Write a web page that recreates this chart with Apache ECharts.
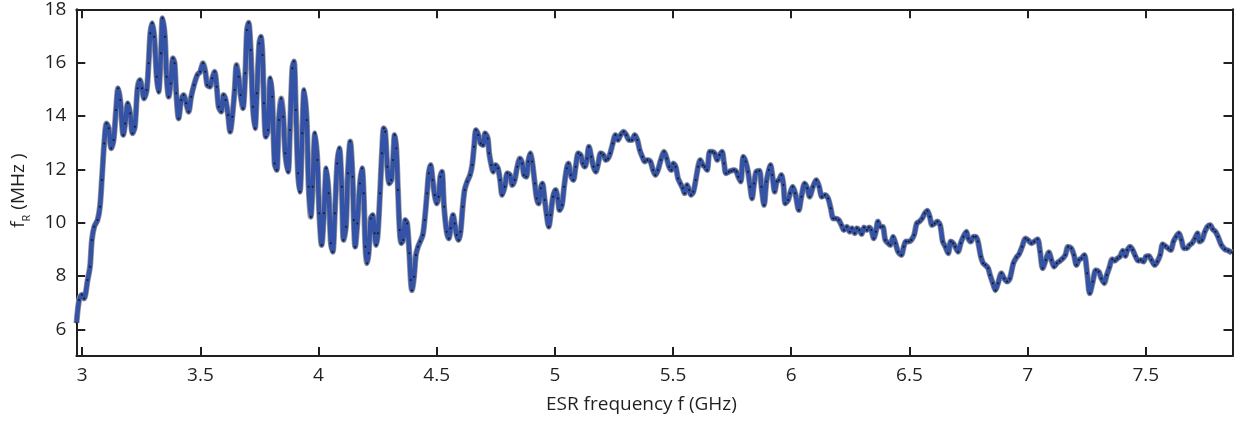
<!DOCTYPE html>
<html><head><meta charset="utf-8">
<script src="https://cdn.jsdelivr.net/npm/echarts@6/dist/echarts.min.js"></script>
<style>html,body{margin:0;padding:0;background:#fff}#c{width:1239px;height:421px}</style>
</head><body><div id="c"></div>
<script>
// ESR frequency (GHz)
const freqGHz = [
2.976,2.987,2.999,3.008,3.023,3.033,3.041,3.051,3.065,3.075,3.083,3.093,3.103,3.112,3.123,3.133,3.143,3.152,3.161,3.174,
3.182,3.193,3.203,3.213,3.223,3.234,3.244,3.253,3.262,3.273,3.281,3.288,3.296,3.305,3.315,3.323,3.333,3.340,3.350,3.357,
3.366,3.374,3.384,3.391,3.398,3.408,3.419,3.429,3.440,3.450,3.461,3.473,3.487,3.499,3.511,3.521,3.529,3.540,3.550,3.560,
3.569,3.577,3.588,3.598,3.607,3.617,3.626,3.635,3.645,3.653,3.662,3.670,3.680,3.690,3.697,3.704,3.713,3.722,3.731,3.739,
3.749,3.756,3.763,3.769,3.777,3.786,3.796,3.804,3.814,3.823,3.832,3.842,3.851,3.859,3.871,3.879,3.889,3.896,3.904,3.913,
3.921,3.931,3.939,3.950,3.958,3.967,3.975,3.985,3.995,4.003,4.013,4.023,4.033,4.043,4.052,4.060,4.069,4.079,4.088,4.098,
4.106,4.116,4.124,4.134,4.144,4.149,4.155,4.164,4.175,4.184,4.191,4.198,4.205,4.212,4.221,4.229,4.237,4.244,4.251,4.260,
4.268,4.276,4.282,4.291,4.299,4.308,4.315,4.322,4.329,4.336,4.343,4.350,4.358,4.367,4.375,4.384,4.390,4.395,4.404,4.412,
4.421,4.430,4.441,4.449,4.459,4.466,4.474,4.483,4.491,4.500,4.508,4.515,4.522,4.531,4.542,4.551,4.559,4.569,4.576,4.584,
4.593,4.601,4.610,4.618,4.629,4.641,4.650,4.658,4.666,4.676,4.686,4.696,4.705,4.716,4.722,4.731,4.739,4.749,4.759,4.768,
4.777,4.788,4.799,4.810,4.820,4.830,4.841,4.852,4.862,4.869,4.879,4.887,4.896,4.904,4.915,4.923,4.931,4.940,4.947,4.957,
4.965,4.974,4.982,4.992,5.003,5.012,5.020,5.030,5.039,5.050,5.057,5.067,5.078,5.088,5.099,5.109,5.118,5.127,5.136,5.144,
5.154,5.163,5.173,5.182,5.194,5.205,5.216,5.225,5.234,5.245,5.256,5.267,5.278,5.291,5.302,5.314,5.326,5.338,5.349,5.359,
5.370,5.380,5.391,5.404,5.415,5.425,5.436,5.448,5.462,5.473,5.483,5.493,5.501,5.511,5.521,5.531,5.541,5.549,5.559,5.568,
5.576,5.586,5.596,5.606,5.615,5.626,5.634,5.644,5.655,5.666,5.676,5.687,5.697,5.707,5.716,5.724,5.736,5.747,5.758,5.768,
5.776,5.786,5.797,5.807,5.817,5.826,5.834,5.843,5.852,5.865,5.874,5.885,5.895,5.905,5.912,5.920,5.930,5.939,5.948,5.958,
5.967,5.975,5.987,5.995,6.006,6.017,6.032,6.043,6.057,6.068,6.078,6.092,6.106,6.118,6.130,6.142,6.156,6.167,6.178,6.188,
6.201,6.212,6.223,6.235,6.248,6.257,6.269,6.278,6.288,6.298,6.308,6.320,6.329,6.339,6.349,6.358,6.367,6.377,6.387,6.398,
6.410,6.419,6.431,6.441,6.452,6.466,6.476,6.485,6.497,6.508,6.520,6.531,6.542,6.554,6.565,6.576,6.586,6.596,6.607,6.618,
6.630,6.641,6.652,6.664,6.675,6.685,6.694,6.706,6.717,6.728,6.741,6.749,6.760,6.771,6.781,6.790,6.802,6.812,6.821,6.833,
6.841,6.853,6.864,6.875,6.889,6.901,6.913,6.925,6.940,6.953,6.964,6.977,6.991,7.002,7.016,7.028,7.042,7.053,7.064,7.077,
7.090,7.101,7.112,7.124,7.136,7.149,7.160,7.171,7.185,7.196,7.207,7.217,7.228,7.240,7.252,7.263,7.276,7.289,7.301,7.312,
7.324,7.335,7.346,7.358,7.369,7.380,7.391,7.403,7.414,7.422,7.434,7.445,7.456,7.468,7.479,7.490,7.501,7.513,7.524,7.538,
7.549,7.561,7.572,7.583,7.595,7.606,7.617,7.628,7.640,7.651,7.662,7.674,7.685,7.696,7.708,7.719,7.727,7.738,7.750,7.761,
7.772,7.784,7.795,7.806,7.820,7.835,7.849,7.865
];
// f_R (MHz)
const fRMHz = [
6.24,7.10,7.30,7.16,7.85,8.35,9.35,9.85,10.10,10.60,11.60,12.97,13.72,13.54,12.79,13.10,14.22,15.04,14.60,13.29,
13.72,14.48,14.10,13.35,13.60,15.04,15.35,15.04,14.66,14.97,15.98,17.10,17.48,16.97,15.47,14.91,16.35,17.66,16.97,15.47,
14.72,15.22,16.16,15.98,14.85,13.91,14.60,14.79,14.48,14.16,14.72,15.16,15.54,15.66,15.98,15.66,15.16,15.10,15.41,15.66,
15.10,14.35,14.16,14.79,14.60,14.04,13.41,13.97,14.97,15.91,15.47,14.79,14.29,15.60,17.22,17.50,16.47,14.35,13.54,14.85,
16.72,16.97,16.29,14.48,13.22,13.47,15.41,14.72,12.22,11.97,13.85,14.66,13.97,12.60,11.91,13.47,15.79,16.04,14.22,11.85,
11.16,13.35,14.97,13.85,11.35,10.22,11.35,13.35,12.35,10.35,9.16,10.35,12.04,11.10,9.23,8.91,10.35,12.22,12.79,11.35,
9.35,9.85,11.85,13.04,11.72,10.10,9.10,9.97,11.47,12.04,11.10,9.10,8.48,8.85,10.16,10.29,9.60,9.16,9.60,11.10,
12.60,13.54,13.41,12.10,11.47,11.60,12.35,13.29,12.79,11.22,9.72,9.23,9.35,10.10,9.97,8.85,7.85,7.47,7.97,8.79,
9.10,9.29,9.54,10.10,11.10,11.85,12.16,11.60,11.04,10.72,10.97,11.72,11.91,10.60,9.66,9.41,9.79,10.29,9.97,9.54,
9.35,9.66,10.60,11.22,11.54,11.79,12.16,12.85,13.47,13.29,12.97,12.91,13.35,13.16,12.60,12.16,11.91,12.16,12.04,11.60,
11.04,11.35,11.85,11.79,11.41,11.60,12.10,12.41,12.22,11.79,11.72,12.29,12.60,12.29,11.47,10.91,10.72,11.29,11.47,10.85,
10.29,9.85,10.29,10.97,11.22,10.91,10.47,10.66,11.35,12.04,12.22,11.79,11.60,12.10,12.60,12.54,12.22,12.10,12.41,12.85,
12.47,12.10,11.91,12.16,12.60,12.54,12.35,12.41,12.60,12.97,13.29,13.10,13.29,13.41,13.29,13.10,13.10,13.29,13.10,12.72,
12.47,12.29,12.35,12.29,11.97,11.79,11.97,12.35,12.66,12.41,12.10,11.97,12.22,12.10,11.66,11.47,11.29,11.10,11.41,11.22,
11.04,11.16,11.60,12.10,12.35,12.16,12.10,11.97,12.66,12.66,12.60,12.35,12.54,12.66,12.22,11.85,11.91,11.95,11.97,11.91,
11.72,11.54,12.47,12.29,11.91,11.35,10.91,11.47,11.91,11.95,11.35,10.66,11.54,11.97,12.16,11.79,11.16,11.54,11.60,11.79,
11.41,10.72,10.85,11.10,11.35,11.10,10.47,10.97,11.47,11.29,10.97,11.35,11.60,11.35,10.97,11.04,10.91,10.54,10.16,10.16,
10.10,9.91,9.72,9.85,9.66,9.79,9.60,9.79,9.72,9.57,9.82,9.72,9.82,9.72,9.41,9.66,10.04,9.85,9.85,9.35,
9.23,9.16,9.47,9.23,8.91,8.79,9.10,9.29,9.29,9.35,9.54,9.97,10.04,10.16,10.35,10.45,10.22,9.91,9.97,10.04,
9.91,9.29,9.10,8.85,9.29,9.23,9.10,8.91,9.23,9.47,9.66,9.41,9.29,9.47,9.47,9.29,8.73,8.48,8.41,8.29,
8.04,7.73,7.47,7.73,8.10,7.91,7.79,7.91,8.48,8.70,8.82,9.10,9.41,9.35,9.23,9.29,9.38,8.91,8.29,8.60,
8.89,8.60,8.35,8.48,8.56,8.66,8.79,9.10,9.04,8.79,8.41,8.60,8.66,8.79,8.10,7.35,7.79,8.22,8.16,7.91,
7.73,8.04,8.32,8.63,8.57,8.66,8.73,8.95,8.75,8.97,9.10,8.97,8.75,8.57,8.60,8.54,8.73,8.75,8.60,8.41,
8.54,8.79,9.19,9.12,9.04,8.97,9.29,9.47,9.60,9.35,9.04,9.04,9.16,9.23,9.41,9.60,9.29,9.35,9.66,9.85,
9.91,9.75,9.66,9.47,9.16,9.00,8.95,8.88
];
const xTickValues = [3, 3.5, 4, 4.5, 5, 5.5, 6, 6.5, 7, 7.5];
const yTickValues = [6, 8, 10, 12, 14, 16, 18];
const xRange = [2.975, 7.867];
const yRange = [5, 18];
const xTitle = 'ESR frequency f (GHz)';
const yTitleParts = ['f', 'R', ' (MHz )'];

const points = freqGHz.map((f, i) => [f, fRMHz[i]]);
const ink = '#231f20';
const font = 'Open Sans';

function axisCommon(ticks, showLabel, range) {
  return {
    type: 'value', min: range[0], max: range[1],
    axisLine: { show: true, onZero: false, lineStyle: { color: ink, width: 2 } },
    axisTick: { show: true, inside: true, length: 9, customValues: ticks, lineStyle: { color: ink, width: 2 } },
    axisLabel: { show: showLabel, customValues: ticks, color: ink, fontSize: 19, fontFamily: font },
    splitLine: { show: false },
    minorTick: { show: false }
  };
}

const xBottom = Object.assign(axisCommon(xTickValues, true, xRange), {
  position: 'bottom', name: xTitle, nameLocation: 'middle', nameGap: 39,
  nameTextStyle: { color: ink, fontSize: 19, fontFamily: font, padding: [0, 26, 0, 0] }
});
xBottom.axisLabel.margin = 10;
const xTop = Object.assign(axisCommon(xTickValues, false, xRange), { position: 'top' });
const yLeft = Object.assign(axisCommon(yTickValues, true, yRange), {
  position: 'left',
  name: '{a|' + yTitleParts[0] + '}{b|' + yTitleParts[1] + '}{a|' + yTitleParts[2] + '}',
  nameLocation: 'middle', nameGap: 31,
  nameTextStyle: {
    padding: [0, 16, 0, 0],
    rich: {
      a: { color: ink, fontSize: 19, fontFamily: font, lineHeight: 22, verticalAlign: 'top' },
      b: { color: ink, fontSize: 11, fontFamily: font, lineHeight: 36, verticalAlign: 'middle' }
    }
  }
});
yLeft.axisLabel.margin = 10;
const yRight = Object.assign(axisCommon(yTickValues, false, yRange), { position: 'right' });

const chart = echarts.init(document.getElementById('c'), null, { renderer: 'canvas' });
chart.setOption({
  animation: false,
  backgroundColor: '#ffffff',
  grid: { left: 76.3, top: 9.3, width: 1156.2, height: 346.7, containLabel: false, outerBoundsMode: 'none' },
  xAxis: [xBottom, xTop],
  yAxis: [yLeft, yRight],
  series: [
    {
      type: 'line', data: points, xAxisIndex: 0, yAxisIndex: 0,
      showSymbol: false, smooth: 0.3, z: 1,
      lineStyle: { color: '#9a9a9a', width: 6 }
    },
    {
      type: 'line', data: points, xAxisIndex: 0, yAxisIndex: 0,
      showSymbol: true, symbol: 'circle', symbolSize: 2, smooth: 0.3, z: 2,
      itemStyle: { color: '#1a1a1a' },
      lineStyle: { color: '#3453a6', width: 4.5 }
    }
  ]
});
</script>
</body></html>
